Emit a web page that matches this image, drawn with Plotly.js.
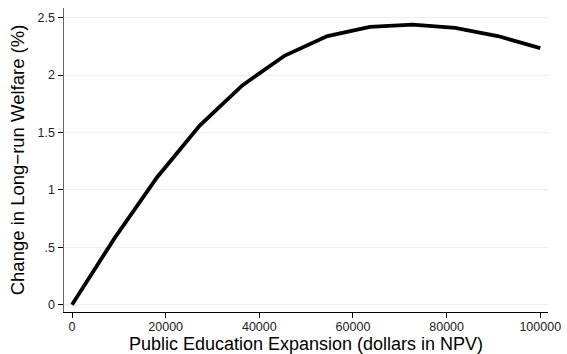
<!DOCTYPE html>
<html>
<head>
<meta charset="utf-8">
<script src="https://cdn.plot.ly/plotly-3.0.1.min.js"></script>
<style>html,body{margin:0;padding:0;background:#fff;}#chart{width:567px;height:354px;}</style>
</head>
<body>
<div id="chart"></div>
<script>
const expansion = [0, 9091, 18182, 27273, 36364, 45455, 54545, 63636, 72727, 81818, 90909, 100000];
const welfareChange = [0.0, 0.58, 1.11, 1.56, 1.91, 2.17, 2.34, 2.42, 2.44, 2.41, 2.34, 2.235];
const xTickVals = [0, 20000, 40000, 60000, 80000, 100000];
const xTickText = ["0", "20000", "40000", "60000", "80000", "100000"];
const yTickVals = [0, 0.5, 1, 1.5, 2, 2.5];
const yTickText = ["0", ".5", "1", "1.5", "2", "2.5"];

const trace = {
  x: expansion, y: welfareChange, type: 'scatter', mode: 'lines',
  line: {color: '#000000', width: 3.8}, hoverinfo: 'skip'
};
const fam = 'Liberation Sans, Arial, sans-serif';
const layout = {
  width: 567, height: 354,
  margin: {l: 64, r: 19, t: 8, b: 42},
  paper_bgcolor: '#fff', plot_bgcolor: '#fff',
  showlegend: false,
  font: {family: fam, color: '#000'},
  xaxis: {
    range: [-1710, 101650],
    tickvals: xTickVals, ticktext: xTickText,
    showgrid: false, zeroline: false,
    showline: true, linecolor: '#000', linewidth: 1.2,
    ticks: 'outside', ticklen: 5, tickcolor: '#000', tickwidth: 1,
    ticklabelstandoff: -2,
    tickfont: {size: 12.5, family: fam, color: '#222'},
    title: {text: 'Public Education Expansion (dollars in NPV)', font: {size: 18, family: fam, color: '#000'}, standoff: 3}
  },
  yaxis: {
    range: [-0.0635, 2.584],
    tickvals: yTickVals, ticktext: yTickText,
    showgrid: true, gridcolor: '#e8f0f2', gridwidth: 1,
    zeroline: false,
    showline: true, linecolor: '#666', linewidth: 1.5,
    ticks: 'outside', ticklen: 5, tickcolor: '#000', tickwidth: 1,
    ticklabelstandoff: 0,
    tickfont: {size: 12.5, family: fam, color: '#222'},
    title: {text: 'Change in Long\u2212run Welfare (%)', font: {size: 18.5, family: fam, color: '#000'}, standoff: 8}
  }
};
Plotly.newPlot('chart', [trace], layout, {displayModeBar: false, staticPlot: true});
</script>
</body>
</html>
